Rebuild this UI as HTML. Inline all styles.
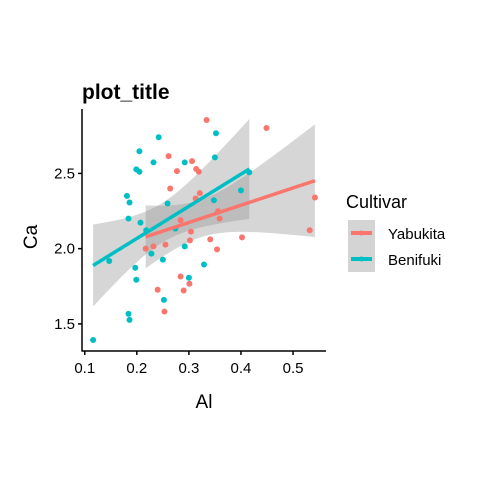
<!DOCTYPE html>
<html><head><meta charset="utf-8"><style>
body{margin:0;background:#fff}
svg text{font-family:"Liberation Sans",sans-serif}
</style></head><body>
<svg id="chart" width="480" height="480" viewBox="0 0 480 480">
<rect width="480" height="480" fill="#fff"/>
<text x="82" y="99" font-size="21" font-weight="bold" fill="#000">plot_title</text>
<g id="bands"></g><g id="pts"></g><g id="lines"></g><g id="axes"></g>
<text x="204" y="408" font-size="19" text-anchor="middle" fill="#000">Al</text>
<text transform="translate(37,237) rotate(-90)" font-size="19" text-anchor="middle" fill="#000">Ca</text>
<g>
<text x="346" y="208" font-size="18" fill="#000">Cultivar</text>
<rect x="348" y="220" width="27" height="52" fill="#d4d4d4"/>
<g><line x1="351" y1="233" x2="372" y2="233" stroke="#F8766D" stroke-width="4"/><circle cx="361.5" cy="233" r="2.5" fill="#F8766D"/><text x="388" y="239" font-size="15" fill="#000">Yabukita</text></g>
<g><line x1="351" y1="259" x2="372" y2="259" stroke="#00BFC4" stroke-width="4"/><circle cx="361.5" cy="259" r="2.5" fill="#00BFC4"/><text x="388" y="265" font-size="15" fill="#000">Benifuki</text></g>
</g>
</svg>
<script>
const yabX=[0.334,0.449,0.261,0.306,0.277,0.314,0.319,0.264,0.321,0.313,0.542,0.356,0.359,0.284,0.304,0.532,0.341,0.402,0.217,0.232,0.255,0.302,0.354,0.284,0.301,0.240,0.290,0.253];
const yabY=[2.855,2.802,2.615,2.582,2.515,2.529,2.511,2.400,2.369,2.333,2.340,2.249,2.200,2.189,2.113,2.122,2.062,2.075,2.000,2.015,2.027,2.055,1.995,1.815,1.767,1.727,1.722,1.582];
const benX=[0.116,0.147,0.181,0.186,0.184,0.199,0.205,0.205,0.207,0.197,0.199,0.184,0.186,0.218,0.228,0.232,0.242,0.250,0.252,0.259,0.274,0.292,0.292,0.300,0.329,0.348,0.350,0.352,0.400,0.416];
const benY=[1.393,1.918,2.351,2.307,2.200,2.527,2.647,2.511,2.173,1.873,1.793,1.567,1.527,2.122,1.967,2.573,2.740,1.927,1.660,2.300,2.133,2.573,2.015,1.807,1.895,2.322,2.607,2.767,2.387,2.507];
const xTicks=[0.1,0.2,0.3,0.4,0.5];
const yTicks=[1.5,2.0,2.5];
const xTickLabels=["0.1","0.2","0.3","0.4","0.5"];
const yTickLabels=["1.5","2.0","2.5"];
const NS='http://www.w3.org/2000/svg';
const L=82,R=326,T=109,B=351;
const all=yabX.concat(benX),allY=yabY.concat(benY);
let x0=Math.min(...all),x1=Math.max(...all),y0=Math.min(...allY),y1=Math.max(...allY);
const dx=(x1-x0)*0.05,dy=(y1-y0)*0.05;x0-=dx;x1+=dx;y0-=dy;y1+=dy;
const sx=v=>L+(v-x0)/(x1-x0)*(R-L), sy=v=>B-(v-y0)/(y1-y0)*(B-T);
function mk(t,a,p){const e=document.createElementNS(NS,t);for(const k in a)e.setAttribute(k,a[k]);p.appendChild(e);return e;}
const gB=document.getElementById('bands'),gP=document.getElementById('pts'),gL=document.getElementById('lines'),gA=document.getElementById('axes');
function fit(X,Y,col,name){
  const n=X.length,mx=X.reduce((a,b)=>a+b)/n,my=Y.reduce((a,b)=>a+b)/n;
  let sxx=0,sxy=0;for(let i=0;i<n;i++){sxx+=(X[i]-mx)**2;sxy+=(X[i]-mx)*(Y[i]-my);}
  const b=sxy/sxx,a=my-b*mx;let sse=0;for(let i=0;i<n;i++)sse+=(Y[i]-a-b*X[i])**2;
  const s=Math.sqrt(sse/(n-2)),t=2.05;const xa=Math.min(...X),xb=Math.max(...X);
  const up=[],lo=[],ln=[];
  for(let k=0;k<=80;k++){const xv=xa+(xb-xa)*k/80,yv=a+b*xv,se=s*Math.sqrt(1/n+(xv-mx)**2/sxx);
    up.push(sx(xv)+','+sy(yv+t*se));lo.unshift(sx(xv)+','+sy(yv-t*se));ln.push(sx(xv)+','+sy(yv));}
  const band=mk('polygon',{points:up.concat(lo).join(' '),fill:'#999999','fill-opacity':0.4},gB);
  
  
  const line=mk('polyline',{points:ln.join(' '),fill:'none',stroke:col,'stroke-width':3.5},gL);
  
  
  for(let i=0;i<n;i++){const c=mk('circle',{cx:sx(X[i]),cy:sy(Y[i]),r:3,fill:col},gP);
    
    }
}
fit(yabX,yabY,'#F8766D','yabukita');
fit(benX,benY,'#00BFC4','benifuki');
mk('line',{x1:L,y1:T,x2:L,y2:B+0.5,stroke:'#000','stroke-width':1.5},gA);
mk('line',{x1:L-0.5,y1:B,x2:R,y2:B,stroke:'#000','stroke-width':1.5},gA);
xTicks.forEach((v,i)=>{const x=sx(v);mk('line',{x1:x,y1:B,x2:x,y2:B+4,stroke:'#000','stroke-width':1.5},gA);
  const t=mk('text',{x:x,y:B+22,'font-size':15,'text-anchor':'middle',fill:'#000'},gA);t.textContent=xTickLabels[i];
  
  });
yTicks.forEach((v,i)=>{const y=sy(v);mk('line',{x1:L-4,y1:y,x2:L,y2:y,stroke:'#000','stroke-width':1.5},gA);
  const t=mk('text',{x:L-7,y:y+5,'font-size':15,'text-anchor':'end',fill:'#000'},gA);t.textContent=yTickLabels[i];
  
  });
</script>
</body></html>
